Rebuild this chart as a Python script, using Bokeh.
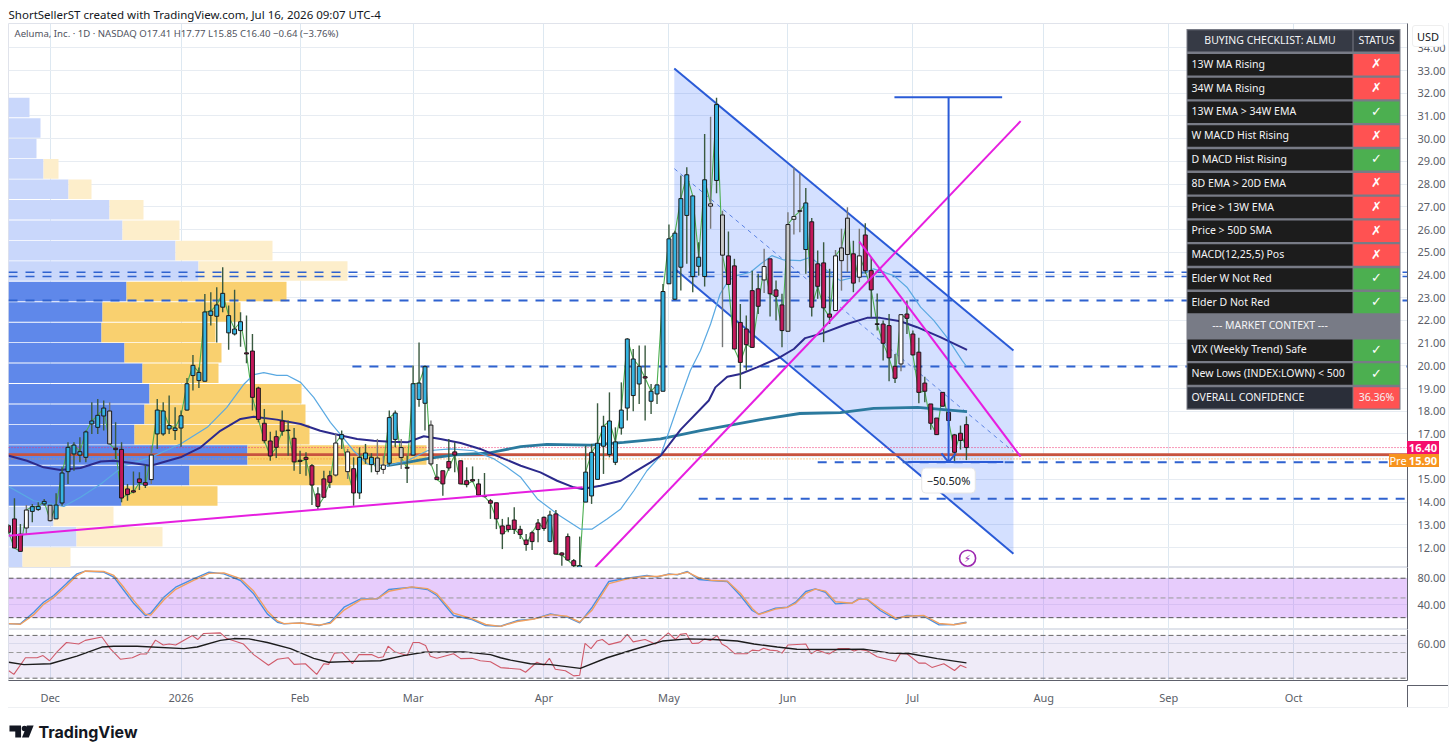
from bokeh.plotting import figure
from bokeh.layouts import column
from bokeh.embed import file_html
from bokeh.resources import INLINE
from bokeh.core.properties import value
from bokeh.models import (Range1d, FixedTicker, PrintfTickFormatter, Label, Span, Title,
                          BoxAnnotation, ColumnDataSource, Div)

# ---------------- candles (one entry per daily bar) ----------------
opens = [12.96,13.26,12.59,12.86,13.59,13.67,13.92,13.86,13.26,13.96,15.34,16.12,16.07,15.97,17.44,17.29,17.79,18.01,16.37,16.32,
14.58,14.50,15.02,14.86,14.99,17.00,17.00,17.22,17.15,17.26,18.05,19.57,19.35,19.32,22.22,22.18,22.58,21.45,21.40,21.55,
20.57,20.65,19.02,17.47,16.69,16.88,17.57,17.17,16.81,15.84,15.97,15.60,14.36,15.02,15.16,15.19,16.78,16.21,15.47,14.40,
15.90,15.65,15.94,15.44,15.71,16.76,16.40,15.53,16.07,18.52,18.35,17.39,15.10,15.38,15.79,16.21,15.82,14.94,14.99,14.80,
14.27,14.06,13.97,12.95,12.98,13.21,12.80,12.33,12.26,12.79,13.33,12.27,13.48,11.76,12.48,11.42,11.10,14.00,14.27,15.00,
16.46,16.10,15.75,17.26,18.14,18.69,19.20,19.52,18.44,18.76,18.88,23.61,22.93,24.34,26.62,23.93,24.38,23.93,27.03,28.16,
26.64,24.84,24.40,21.91,21.62,23.31,23.39,23.78,24.71,23.34,22.68,21.52,26.45,26.83,25.12,26.34,24.49,24.53,22.28,22.43,
24.63,24.90,24.93,23.90,25.76,24.19,21.85,21.84,21.77,19.98,20.08,22.28,21.40,20.60,19.24,18.32,17.70,18.22,17.95,16.96,16.71,17.41]
highs = [13.03,14.17,13.03,13.87,13.92,13.99,14.14,13.86,14.39,15.53,16.63,16.63,16.85,17.15,18.39,18.54,18.47,18.39,17.51,16.63,
14.80,15.35,15.31,15.65,16.48,18.54,18.39,18.69,18.17,18.03,19.46,20.48,19.93,23.16,23.24,23.46,24.34,22.65,23.35,22.36,
22.21,21.40,19.08,18.10,17.10,17.15,18.03,17.59,17.26,16.26,16.19,15.68,14.65,15.38,15.38,17.00,17.15,16.34,15.97,16.41,
16.56,16.15,16.78,16.04,18.03,18.03,16.78,16.04,20.01,21.03,20.01,17.59,15.68,15.38,16.78,16.63,15.82,15.53,15.57,15.02,
15.28,14.14,13.97,13.26,13.33,13.77,12.96,12.60,12.74,13.26,13.36,13.62,13.65,11.79,12.62,11.49,12.48,16.48,16.56,18.35,
17.80,18.83,17.29,19.27,21.21,20.74,20.89,20.89,19.20,19.16,23.60,26.22,25.95,28.38,28.74,27.48,25.44,30.21,30.97,31.80,
26.83,25.91,24.71,22.72,22.21,24.19,24.05,25.15,24.71,23.75,23.17,26.76,28.74,28.45,27.83,26.51,25.08,25.44,24.27,25.10,
26.03,26.98,25.51,26.03,26.28,24.78,23.18,21.99,22.28,20.52,22.25,22.87,21.55,21.23,19.52,18.32,17.70,18.83,18.10,17.00,17.37,17.77]
lows = [12.59,11.98,11.83,12.59,13.11,13.62,13.84,13.15,13.26,13.84,14.80,15.38,15.75,15.75,17.00,17.00,17.15,16.56,15.90,13.99,
14.06,14.39,14.53,14.62,14.80,16.34,16.92,17.00,16.73,16.44,18.03,18.91,19.02,19.32,21.77,21.03,22.36,20.71,21.33,20.84,
20.11,18.03,17.51,16.59,15.82,15.94,16.92,16.04,15.38,15.24,15.16,13.87,13.70,14.21,14.62,15.13,16.34,15.02,13.84,14.14,
15.68,15.31,15.21,15.24,15.60,16.41,15.46,14.84,16.04,18.20,17.15,15.60,14.97,14.28,15.38,15.31,14.80,14.65,14.87,14.28,
14.21,13.26,12.81,11.93,12.67,12.60,12.37,11.86,11.89,12.23,12.74,12.23,11.71,11.20,11.42,11.05,11.05,14.00,13.92,15.00,
15.24,15.97,15.63,16.97,17.59,18.00,18.32,17.59,17.88,18.32,18.88,23.61,22.90,23.31,24.49,23.24,23.97,23.49,26.03,27.60,
20.82,23.58,20.74,18.98,19.79,20.81,22.28,23.20,22.17,21.99,20.82,21.52,25.78,25.88,24.05,22.17,22.95,21.04,21.84,22.43,
23.31,24.12,23.24,23.68,24.05,22.13,21.55,20.23,19.32,19.24,19.76,21.40,20.45,18.35,18.39,17.18,16.97,18.22,17.37,15.75,16.31,15.85]
closes = [12.67,11.98,11.83,13.65,13.80,13.81,14.03,13.18,13.87,15.28,16.41,16.51,16.22,17.09,17.57,17.82,18.14,16.56,16.31,14.18,
14.33,14.44,14.86,14.74,16.07,18.05,18.01,17.37,17.26,17.80,19.21,20.02,19.71,22.37,22.41,22.68,23.19,22.21,21.62,21.94,
20.52,18.61,17.64,16.70,16.03,16.41,17.12,17.15,15.77,15.79,15.88,14.75,13.81,14.21,14.87,16.60,16.97,15.34,14.40,15.97,
16.16,15.97,15.35,15.63,17.72,17.92,15.96,15.49,19.21,19.24,19.96,15.68,14.99,14.80,15.50,16.07,14.80,14.77,14.93,14.31,
14.24,13.95,13.26,12.60,12.79,12.80,12.57,12.13,12.65,13.08,12.84,13.43,11.71,11.67,11.45,11.20,11.20,15.32,16.19,16.59,
17.34,17.57,16.65,18.05,21.18,20.30,19.98,19.46,18.88,19.16,23.27,25.59,25.84,27.36,28.41,27.48,24.78,28.19,27.13,31.50,
24.87,23.58,20.74,20.15,20.93,20.81,22.62,24.37,23.17,23.06,21.55,26.22,26.57,26.80,27.17,22.58,23.50,22.55,22.14,24.84,
25.19,26.50,23.64,24.84,24.19,23.34,21.82,20.99,20.35,19.45,22.25,22.09,20.48,18.83,18.88,17.47,16.97,18.83,17.59,16.19,17.03,16.40]
kinds = list("rrrwcccgcccccccccgrr"
             "rrrrwcccccccccccccc" "c"
             "rrrrrrrrrrrrrrrwcwrc"
             "ccgwccgrcccgrrrrrrrr"
             "rrrrrrrrrrrcrrrrcccc"
             "cccccccrccc" "cccccccwc"
             "grrrrrrwrrrgwwcrrrrw"
             "ggrwrrrrrrwrrrrrrrrr" "r" "r")
bar_index = list(range(len(closes)))

# ---------------- moving averages (bar, price) ----------------
sma20_x = [0.05,4.25,9.3,12.1,15.5,19.4,23.9,28.9,33.4,36.7,39.6,41.2,42.9,45.1,46.8,49.1,51.3,54.1,56.4,58.0,60.3,63.6,67.0,70.4,74.3,78.2,81.6,83.8,86.1,88.9,92.2,96.1,98.1,100.6,102.9,105.1,107.3,109.6,112.8,114.6,116.3,118.0,119.6,121.0,122.4,124.7,126.4,128.3,130.3,133.1,134.8,137.6,139.8,142.1,145.4,148.8,151.0,153.3,155.5,157.7,160.3,161.0]
sma20_y = [14.68,14.06,13.81,14.21,14.80,15.60,15.97,16.56,17.29,18.17,19.20,19.61,19.70,19.58,19.58,19.27,18.61,17.51,16.78,16.26,15.68,15.60,15.82,16.26,16.34,16.26,15.90,15.53,15.09,14.14,13.48,12.81,12.81,13.26,13.70,14.50,15.38,16.04,18.47,19.79,20.67,21.84,23.16,23.75,23.97,24.12,24.48,24.85,24.66,24.63,24.78,24.19,23.75,23.90,24.27,23.97,23.46,22.58,22.00,21.26,20.23,19.98]
sma50_x = [0.05,3.1,5.9,8.7,12.1,15.5,17.7,21.1,23.9,28.9,32.3,35.6,39.0,41.2,45.1,49.1,52.4,54.7,58.6,61.4,64.2,67.0,69.8,72.6,76.0,79.3,82.7,86.1,89.4,92.2,95.0,96.4,99.5,102.9,105.1,107.9,109.6,113.0,117.7,118.8,120.8,123.0,125.8,129.4,132.0,133.9,137.0,140.9,144.3,146.5,149.9,152.7,156.6,161.1]
sma50_y = [16.04,15.82,15.53,15.41,15.50,15.79,15.82,15.71,15.60,15.97,16.41,17.14,17.66,17.76,17.63,17.44,17.14,17.00,16.78,16.70,16.66,16.63,16.90,16.78,16.60,16.34,15.97,15.60,15.31,14.94,14.65,14.58,14.72,14.94,15.31,15.75,16.04,17.20,18.47,19.05,19.52,19.64,19.93,20.34,20.74,21.22,21.45,21.84,22.11,22.11,21.96,21.70,21.26,20.70]
sma200_x = [63.6,67.0,70.9,75.4,80.5,86.1,90.5,97.8,103.4,109.6,116.3,126.4,133.0,139.8,145.4,152.8,161.1]
sma200_y = [15.60,15.75,15.94,16.09,16.15,16.44,16.54,16.51,16.63,16.78,17.15,17.63,17.90,17.94,18.13,18.17,17.98]

# ---------------- lower panes ----------------
stoch_x = [0.05,2.0,4.25,5.9,7.6,9.85,11.5,12.9,16.0,17.7,19.4,21.1,23.0,23.9,26.1,28.1,31.1,33.7,36.2,39.0,41.2,43.5,45.2,46.3,49.1,52.2,54.1,56.4,59.2,62.0,63.9,67.8,70.4,72.0,74.8,77.9,80.2,82.7,85.5,88.3,91.1,93.9,96.0,98.1,100.9,104.0,107.3,109.0,111.0,112.4,114.1,116.0,118.0,120.8,123.0,125.0,126.1,128.9,130.9,132.3,134.0,135.6,137.3,139.0,141.8,142.9,144.3,146.5,149.1,151.0,153.8,156.4,158.9,161.0]
stoch_k = [10.6,10.6,28.3,43.5,53.7,72.9,86.6,90.7,89.2,81.6,61.3,41.0,23.3,26.8,51.1,66.3,79.0,89.2,86.6,76.5,56.2,25.8,13.1,10.6,12.1,8.0,13.1,35.9,48.6,48.6,62.8,66.3,62.8,53.7,23.3,17.2,8.0,7.0,15.6,18.2,25.8,20.7,12.1,35.9,75.0,80.0,84.1,81.6,86.6,85.1,90.2,78.0,76.5,75.0,53.7,30.9,25.3,34.4,35.9,43.5,59.8,63.8,58.7,41.0,42.5,48.6,47.6,30.9,17.2,23.3,22.3,9.0,9.6,13.1]
stoch_d = [11.0,9.9,24.6,40.2,50.6,69.3,84.1,90.9,90.3,84.4,65.8,45.5,25.4,23.8,46.9,63.1,76.8,87.4,88.1,79.3,60.5,30.2,15.1,10.9,11.8,8.9,11.4,31.6,47.0,48.9,60.1,66.9,64.2,56.1,26.9,18.4,9.6,6.8,14.2,17.9,24.6,22.1,13.4,31.8,71.8,79.1,83.2,82.7,85.6,85.9,89.1,81.0,77.0,75.6,57.2,34.1,24.8,33.1,35.6,41.9,56.8,63.4,60.4,44.2,42.0,47.8,48.1,33.6,19.2,22.1,23.4,11.2,9.2,12.3]
rsi_x = [0.05,0.9,2.85,4.8,5.8,6.9,8.2,9.75,11.8,12.9,15.7,17.1,18.8,20.8,22.2,23.2,24.7,26.0,27.0,28.1,30.9,31.8,32.8,35.6,36.7,39.5,41.2,43.7,45.2,47.0,48.0,49.9,51.8,53.0,53.8,54.8,56.1,57.8,58.9,61.1,62.2,63.0,63.8,64.9,67.0,68.0,69.0,70.1,70.9,72.0,74.8,76.0,77.9,79.3,81.0,82.7,86.0,86.9,88.8,90.0,90.9,91.9,93.6,95.0,96.0,96.9,97.9,98.9,99.8,100.9,102.9,104.0,105.0,107.0,108.7,110.9,112.1,112.9,113.9,114.9,116.0,117.0,118.0,119.1,119.9,120.8,122.1,124.1,125.0,126.1,126.9,128.0,129.2,130.0,131.0,134.0,134.9,135.9,137.9,139.5,141.2,142.1,142.9,144.3,146.0,149.1,149.9,151.0,153.0,154.1,155.2,157.2,159.0,160.0,161.0]
rsi_y = [28.7,24.4,43.9,43.9,46.4,40.4,51.0,61.7,59.9,64.2,68.1,54.6,42.2,43.9,48.2,48.2,64.5,58.8,59.9,58.8,69.8,65.2,72.3,73.0,66.3,59.9,47.5,35.1,42.2,43.9,36.1,36.9,24.4,36.9,36.1,49.3,50.0,36.9,47.5,47.5,43.9,45.0,57.4,51.0,46.4,61.7,61.7,58.1,45.7,43.2,48.5,42.9,43.2,40.4,39.3,32.4,30.5,26.9,38.6,35.1,43.2,30.5,28.7,22.7,23.4,60.6,54.6,63.4,65.2,59.2,62.7,71.2,62.4,65.2,59.9,73.0,65.2,71.2,72.3,60.6,61.0,65.9,64.2,69.8,59.9,56.4,48.5,48.5,52.8,52.1,54.9,52.8,52.1,49.3,58.8,59.9,48.5,52.8,48.2,54.6,54.6,51.7,53.5,52.1,45.0,39.7,48.5,48.5,37.6,37.6,32.6,36.9,29.0,35.1,32.2]
rsima_x = [0.05,2.6,7.05,11.5,15.7,17.7,21.6,29.5,31.7,35.6,37.9,40.4,43.5,47.4,51.3,53.8,58.0,62.5,66.4,69.8,76.5,81.0,82.7,84.4,87.7,91.1,96.1,100.6,105.1,109.9,114.1,118.5,122.5,125.3,129.2,132.5,138.7,143.7,148.2,151.6,156.1,161.0]
rsima_y = [38.6,35.8,36.9,45.7,56.4,57.4,57.4,54.6,56.4,64.2,66.3,65.9,61.7,54.6,43.2,38.6,39.7,40.4,46.4,50.3,50.7,47.5,43.9,41.1,36.9,35.8,31.5,43.9,53.5,63.4,65.9,65.2,63.4,59.9,56.4,53.9,53.5,53.9,49.3,48.5,42.9,37.9]

# ---------------- volume profile (rows from the bottom) ----------------
vp_low = [11.14,12.04,12.94,13.84,14.74,15.64,16.54,17.44,18.34,19.24,20.14,21.04,21.94,22.84,23.74,24.64,25.54,26.44,27.34,28.24,29.14,30.04,30.94]
vp_up = [14,68,45,113,181,239,126,136,141,134,116,93,94,118,190,167,114,101,60,35,28,32,21]
vp_all = [62,154,105,209,343,418,301,297,293,210,213,207,232,278,339,264,171,135,83,50,28,32,21]
vp_value_area = [0,0,0,1,1,1,1,1,1,1,1,1,1,1,0,0,0,0,0,0,0,0,0]

# ---------------- axes ----------------
month_bars = [7,29,49,68,90,111,131,152,174,195,216]
month_names = ["Dec","2026","Feb","Mar","Apr","May","Jun","Jul","Aug","Sep","Oct"]
price_ticks = list(range(12,35))

# ---------------- drawings (bar, price) ----------------
channel_x = [111.9,168.9,168.9,111.9]
channel_y = [33.09,20.67,11.73,24.28]
mid_x = [111.9,168.9]
mid_y = [28.68,16.22]
magenta_lines = [([0,96.5],[12.52,14.65]),([98.6,170.1],[11.13,30.77]),([143.0,170.1],[25.47,16.0])]
levels = [(24.12,0,235.2,1.6),(23.93,0,235.2,1.6),(22.87,0,235.2,2),(19.97,57.8,235.2,2),(15.75,136,232,2),(14.15,116,235.2,2)]
poc_price, last_price, pre_price = 16.09, 16.40, 15.90

# ---------------- table ----------------
table_rows = ["13W MA Rising","34W MA Rising","13W EMA > 34W EMA","W MACD Hist Rising","D MACD Hist Rising","8D EMA > 20D EMA","Price > 13W EMA","Price > 50D SMA","MACD(12,25,5) Pos","Elder W Not Red","Elder D Not Red"]
table_pass = [0,0,1,0,1,0,0,0,0,1,1]
context_rows = ["VIX (Weekly Trend) Safe","New Lows (INDEX:LOWN) < 500"]
context_pass = [1,1]

FONT = "Noto Sans"
GRID_H, GRID_V = "#e7ecf2", "#dde8f1"
BULL, BEAR, AX = "#35b4e2", "#c2185b", "#5d606b"
BLUE, MAGENTA = "#2a5bd7", "#e61fe0"
Wd = 1448
X_END = 235.13

def base(h, y0, y1, top=0, bottom=0, ticks=(), labels=None):
    f = figure(width=Wd, height=h, x_range=Range1d(0, X_END), y_range=Range1d(y0, y1),
               output_backend="svg", toolbar_location=None, y_axis_location="right",
               min_border_left=8, min_border_right=41, min_border_top=top, min_border_bottom=bottom,
               background_fill_color="white", border_fill_color="white", outline_line_color="#e0e3eb")
    f.extra_x_ranges["px"] = Range1d(0, 1399)
    f.xaxis.ticker = FixedTicker(ticks=month_bars)
    f.xaxis.visible = False
    f.xgrid.grid_line_color = GRID_V
    f.yaxis.ticker = FixedTicker(ticks=list(ticks))
    f.yaxis.formatter = PrintfTickFormatter(format="%.2f")
    if labels:
        f.yaxis.major_label_overrides = labels
    f.yaxis.major_tick_line_color = None
    f.yaxis.minor_tick_line_color = None
    f.yaxis.major_label_text_font = FONT
    f.yaxis.major_label_text_font_size = "11px"
    f.yaxis.major_label_text_color = "#5a5e68"
    f.yaxis.major_label_standoff = 4
    f.yaxis.axis_line_color = AX
    f.ygrid.grid_line_color = GRID_H
    return f

# ================= main pane =================
p = base(567, 11.12, 35.07, top=23, ticks=price_ticks, labels={16: ""})
p.extra_y_ranges["row"] = Range1d(22.63, -0.231)
p.add_layout(Title(text="ShortSellerST created with TradingView.com, Jul 16, 2026 09:07 UTC-4", text_font=FONT,
                   text_font_size="11.5px", text_font_style="normal", text_color="#131722", standoff=4), "above")

# profile
vp_top = [v + 0.86 for v in vp_low]
vp_blue = ["#5f88ea" if a else "#c9d7fb" for a in vp_value_area]
vp_yel = ["#f9d06f" if a else "#fdeecb" for a in vp_value_area]
p.quad(left=[0]*len(vp_up), right=vp_up, bottom=vp_low, top=vp_top, fill_color=vp_blue, line_color=None, x_range_name="px")
p.quad(left=vp_up, right=vp_all, bottom=vp_low, top=vp_top, fill_color=vp_yel, line_color=None, x_range_name="px")

# channel
p.patch(channel_x, channel_y, fill_color="#2962ff", fill_alpha=0.2, line_color=None)
p.line(channel_x[:2], channel_y[:2], line_color=BLUE, line_width=2)
p.line(channel_x[3:1:-1], channel_y[3:1:-1], line_color=BLUE, line_width=2)
p.line(mid_x, mid_y, line_color=BLUE, line_alpha=0.7, line_width=1, line_dash="4 4")

# levels
for y_, x0, x1, w in levels:
    p.line([x0, x1], [y_, y_], line_color="#2f62cf", line_width=w, line_dash="9 8")
p.line([0, X_END], [poc_price]*2, line_color="#c8533f", line_width=2.6)
p.line([0, X_END], [last_price]*2, line_color="#f0306f", line_width=1, line_dash="1 2")
p.line([0, X_END], [pre_price]*2, line_color="#f7931e", line_width=1, line_dash="1 2")

# MAs and close line
p.line(bar_index, closes, line_color="#4caf50", line_width=1.1)
p.line(sma200_x, sma200_y, line_color="#2b7a9e", line_width=2.8)
p.line(sma20_x, sma20_y, line_color="#5aa9e2", line_width=1.2)
p.line(sma50_x, sma50_y, line_color="#2c2a8c", line_width=2)

# candles
wick_col = ["#777777" if k in "gw" else "#3a5a40" for k in kinds]
body_col = {"c": BULL, "r": BEAR, "w": "#ffffff", "g": "#c9c9c9"}
body_top = [max(a, b) for a, b in zip(opens, closes)]
body_bot = [min(a, b) for a, b in zip(opens, closes)]
src = ColumnDataSource(dict(x=bar_index, hi=highs, lo=lows, top=body_top, bot=body_bot,
                            wick=wick_col, body=[body_col[k] for k in kinds]))
p.segment("x", "hi", "x", "lo", source=src, line_color="wick", line_width=1.4)
p.vbar(x="x", width=0.66, top="top", bottom="bot", source=src, fill_color="body", line_color="#1a1a1a", line_width=1)

# magenta lines
for xs, ys in magenta_lines:
    p.line(xs, ys, line_color=MAGENTA, line_width=2)

# ruler
p.line([158, 158], [31.82, 15.76], line_color=BLUE, line_width=2)
p.line([148.9, 167.0], [31.82, 31.82], line_color=BLUE, line_width=2)
p.line([151.2, 167.2], [15.76, 15.76], line_color=BLUE, line_width=2)
p.line([156.8, 158, 159.2], [16.14, 15.76, 16.14], line_color=BLUE, line_width=2)

# earnings mark
p.scatter([161.2], [11.53], size=16, marker="circle", fill_color="white", line_color="#9c27b0", line_width=1.6)
p.text([161.2], [11.53], text=["⚡"], text_align="center", text_baseline="middle", text_color="#9c27b0",
       text_font=value("DejaVu Sans"), text_font_size="10px")

# table (row scale on y, pixel scale on x)
N = 16
p.quad(left=[1178], right=[1392], top=[0], bottom=[N], fill_color="#787b86", line_color=None, x_range_name="px", y_range_name="row")
g = 0.05
def cell(x0, x1, r, col):
    p.quad(left=[x0], right=[x1], top=[r + g], bottom=[r + 1 - g], fill_color=col, line_color=None, x_range_name="px", y_range_name="row")
def ttext(x, r, s, align="left", font=FONT, size="10.5px", style="normal", color="#f4f4f6"):
    p.text([x], [r + 0.46], text=[s], text_align=align, text_baseline="middle", text_color=color,
           text_font=value(font), text_font_size=size, text_font_style=style, x_range_name="px", y_range_name="row")
XL, XM, XR = 1179, 1344, 1391
RED, GREEN = "#ff5252", "#4caf50"
cell(XL, XM, 0, "#363a45"); cell(XM + 1, XR, 0, "#363a45")
ttext((XL + XM) / 2, 0, "BUYING CHECKLIST: ALMU", "center")
ttext((XM + XR) / 2 + 0.5, 0, "STATUS", "center")
def status_row(r, name, ok):
    cell(XL, XM, r, "#1c1c1c")
    cell(XM + 1, XR, r, GREEN if ok else RED)
    ttext(XL + 4, r, name)
    ttext((XM + XR) / 2 + 0.5, r, "✓" if ok else "✗", "center", "DejaVu Sans", "13px", "bold", "#ffffff")
for k, (name, ok) in enumerate(zip(table_rows, table_pass)):
    status_row(k + 1, name, ok)
ttext((XL + XM) / 2, 12, "--- MARKET CONTEXT ---", "center")
for k, (name, ok) in enumerate(zip(context_rows, context_pass)):
    status_row(k + 13, name, ok)
cell(XL, XM, 15, "#2a2e39"); cell(XM + 1, XR, 15, RED)
ttext(XL + 4, 15, "OVERALL CONFIDENCE")
ttext((XM + XR) / 2 + 0.5, 15, "36.36%", "center")

# annotations inside the frame
def lab(text, x, y, **kw):
    kw.setdefault("text_font", FONT)
    kw.setdefault("text_font_size", "11px")
    p.add_layout(Label(x=x, y=y, text=text, x_units="canvas", y_units="canvas", text_baseline="middle", **kw))
lab("Aeluma, Inc. · 1D · NASDAQ O17.41 H17.77 L15.85 C16.40 −0.64 (−3.76%)", 14, 33, text_color="#50535e", text_font_size="9.6px")
lab("−50.50%", 948, 480, text_align="center", text_color="#131722", text_font_size="11px",
    background_fill_color="white", border_line_color="#e6e6e6", padding=5, border_radius=4)

# ================= stochastic pane =================
p1 = base(62, 2.0, 96.3, ticks=[80, 40])
p1.add_layout(BoxAnnotation(bottom=20, top=80, fill_color="#b565f5", fill_alpha=0.33, line_color=None, level="underlay"))
for lv, col in [(80, "#555"), (50, "#999"), (20, "#555")]:
    p1.add_layout(Span(location=lv, dimension="width", line_color=col, line_width=1, line_dash="5 3"))
p1.line(stoch_x, stoch_k, line_color="#4a90e2", line_width=1.4)
p1.line(stoch_x, stoch_d, line_color="#f0a060", line_width=1.4)

# ================= RSI pane =================
p2 = base(78, 17.3, 76.9, bottom=22, ticks=[60])
p2.add_layout(BoxAnnotation(bottom=20, top=70, fill_color="#7e57c2", fill_alpha=0.12, line_color=None, level="underlay"))
for lv, col in [(70, "#666"), (50, "#999"), (20, "#666")]:
    p2.add_layout(Span(location=lv, dimension="width", line_color=col, line_width=1, line_dash="5 3"))
p2.line(rsi_x, rsi_y, line_color="#d05a6a", line_width=1.1)
p2.line(rsima_x, rsima_y, line_color="#1c1c1c", line_width=1.4)
p2.xaxis.visible = True
p2.xaxis.major_label_overrides = dict(zip(month_bars, month_names))
p2.xaxis.major_tick_line_color = None
p2.xaxis.minor_tick_line_color = None
p2.xaxis.axis_line_color = AX
p2.xaxis.major_label_text_font = FONT
p2.xaxis.major_label_text_font_size = "11px"
p2.xaxis.major_label_text_color = "#5a5e68"
p2.xaxis.major_label_standoff = 3

# ================= footer =================
f = figure(width=Wd, height=40, x_range=Range1d(8, 1456), y_range=Range1d(747, 707), output_backend="svg",
           toolbar_location=None, min_border=0, outline_line_color=None, background_fill_color="white",
           border_fill_color="white", x_axis_location=None, y_axis_location=None)
f.grid.visible = False
f.patch([9, 21, 21, 15, 15, 9], [725, 725, 737, 737, 731, 731], fill_color="#131722", line_color=None)
f.scatter([24.5], [728], size=5.5, marker="circle", fill_color="#131722", line_color=None)
f.patch([27, 34, 29, 22], [725, 725, 737, 737], fill_color="#131722", line_color=None)
f.text([39], [731], text=["TradingView"], text_baseline="middle", text_color="#131722",
       text_font=value("Inter"), text_font_style="bold", text_font_size="16px")

# ================= page-level tags beside the panes =================
def tag(text, left, top, w, h, bg, fg="#ffffff", extra=""):
    return (f'<div style="position:absolute;left:{left}px;top:{top}px;width:{w}px;height:{h}px;background:{bg};color:{fg};'
            f'font:11px/{h}px \'Noto Sans\';text-align:center;{extra}">{text}</div>')
def rule(left, top, w, h, col):
    return f'<div style="position:absolute;left:{left}px;top:{top}px;width:{w}px;height:{h}px;background:{col}"></div>'
overlay_html = ('<div style="position:absolute;left:0;top:-747px;width:1448px;height:747px;pointer-events:none">'
                + rule(1448, 23, 1, 684, "#eef0f3")
                + rule(8, 707, 1440, 1, "#eef0f3")
                + rule(1407, 685, 1, 22, AX)
                + rule(1407, 685, 41, 1, AX)
                + tag("USD", 1412, 25, 32, 22, "#ffffff", "#131722", "border:1px solid #eeeeee;border-radius:3px;box-sizing:border-box;")
                + tag("<b>16.40</b>", 1407, 441, 32, 13, "#f50f6c")
                + tag("<b>15.90</b>", 1407, 454, 32, 13, "#f7931e")
                + tag("Pre", 1389, 454, 18, 13, "#f7931e")
                + '</div>')
overlay = Div(text=overlay_html, width=0, height=0, margin=0, styles={"position": "relative", "overflow": "visible", "z-index": "10"})

layout = column(p, p1, p2, f, overlay, spacing=0)
open("out.html", "w").write(file_html(layout, INLINE))
